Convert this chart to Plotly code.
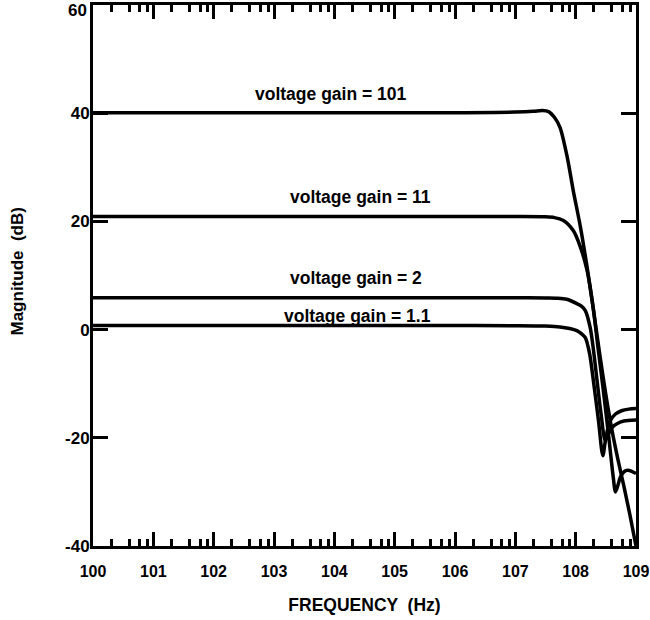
import plotly.graph_objects as go

# Closed-loop magnitude response for four voltage gains.
# Frequencies are given as log10(Hz); magnitudes in dB.
exp_g1_1 = [0, 3, 6, 7.0, 7.5, 7.74, 7.9, 8.02, 8.1, 8.16, 8.23, 8.3, 8.38, 8.45, 8.5, 8.57, 8.66, 8.76, 8.88, 9.0]
db_g1_1 = [0.75, 0.75, 0.75, 0.72, 0.65, 0.5, 0.2, -0.2, -0.8, -1.5, -4.4, -10, -17, -23.3, -20, -16.9, -15.6, -15.0, -14.7, -14.6]

exp_g2 = [0, 3, 6, 7.0, 7.5, 7.7, 7.85, 8.02, 8.1, 8.16, 8.24, 8.29, 8.35, 8.42, 8.49, 8.54, 8.61, 8.7, 8.8, 9.0]
db_g2 = [5.9, 5.9, 5.9, 5.9, 5.85, 5.8, 5.6, 4.8, 4.3, 3.5, 0.4, -3.3, -9, -15.5, -20.5, -19.4, -18.0, -17.3, -16.9, -16.7]

exp_g11 = [0, 3, 6, 7.0, 7.5, 7.65, 7.79, 7.96, 8.08, 8.19, 8.29, 8.37, 8.45, 8.55, 8.62, 8.66, 8.7, 8.74, 8.8, 8.86, 8.93, 9.0]
db_g11 = [20.9, 20.9, 20.9, 20.9, 20.85, 20.7, 20.2, 18.3, 15.2, 10.9, 4.1, -3.3, -10.5, -20, -27, -30, -28.8, -27.3, -26.3, -26.0, -26.2, -26.6]

exp_g101 = [0, 3, 6, 7.0, 7.3, 7.45, 7.55, 7.65, 7.74, 7.86, 7.96, 8.08, 8.19, 8.29, 8.41, 8.5, 8.6, 8.7, 8.8, 8.9, 9.0]
db_g101 = [40.1, 40.1, 40.1, 40.2, 40.35, 40.5, 40.3, 39.2, 37.4, 31.9, 25.7, 18.9, 11.5, 4.0, -5.4, -12, -18.5, -24, -29, -34.3, -40]

series = [
    ("voltage gain = 1.1", exp_g1_1, db_g1_1),
    ("voltage gain = 2", exp_g2, db_g2),
    ("voltage gain = 11", exp_g11, db_g11),
    ("voltage gain = 101", exp_g101, db_g101),
]

# Label anchor points (log10 Hz, dB)
label_text = ["voltage gain = 101", "voltage gain = 11", "voltage gain = 2", "voltage gain = 1.1"]
label_x = [3.945, 4.44, 4.36, 4.38]
label_y = [43.6, 24.5, 9.6, 2.6]

# Axis ticks
x_major_exp = list(range(0, 10))
x_tick_text = ["100", "101", "102", "103", "104", "105", "106", "107", "108", "109"]
x_minor_mult = [2, 4, 6, 8]
y_ticks = [-40, -20, 0, 20, 40, 60]

FONT = "Liberation Sans, Arial, sans-serif"

fig = go.Figure()
for name, ex, db in series:
    fig.add_trace(go.Scatter(
        x=[10 ** e for e in ex], y=db, mode="lines", name=name,
        line=dict(color="black", width=3.5, shape="spline", smoothing=0.8),
        hoverinfo="skip", showlegend=False,
    ))

for t, lx, ly in zip(label_text, label_x, label_y):
    fig.add_annotation(x=lx, y=ly, xref="x", yref="y", text="<b>%s</b>" % t,
                       showarrow=False, font=dict(family=FONT, size=17.5, color="black"))

# the top y label sits just under the frame corner
y_tick_text = ["<b>%d</b>" % v if v != 60 else "" for v in y_ticks]
fig.add_annotation(x=0, y=60, xref="paper", yref="y", text="<b>60</b>", showarrow=False,
                   xanchor="right", yanchor="middle", xshift=-4, yshift=-5,
                   font=dict(family=FONT, size=17, color="black"))

# vertical axis title
fig.add_annotation(x=0, y=0.5, xref="paper", yref="paper", text="<b>Magnitude  (dB)</b>",
                   showarrow=False, textangle=-90, xanchor="center", yanchor="middle",
                   xshift=-76, yshift=4, font=dict(family=FONT, size=17, color="black"))

minor_vals = [m * 10 ** d for d in range(0, 9) for m in x_minor_mult]

fig.update_xaxes(
    type="log", range=[0, 9], automargin=False,
    tickmode="array", tickvals=[10 ** e for e in x_major_exp], ticktext=["<b>%s</b>" % s for s in x_tick_text],
    ticks="inside", ticklen=14, tickwidth=2.5, tickcolor="black",
    minor=dict(tickmode="array", tickvals=minor_vals, ticks="inside", ticklen=7, tickwidth=2.5, tickcolor="black", showgrid=False),
    showline=True, linewidth=3, linecolor="black", mirror="ticks",
    showgrid=False, zeroline=False,
    tickfont=dict(family=FONT, size=16, color="black"),
    ticklabelstandoff=9,
    title=dict(text="<b>FREQUENCY  (Hz)</b>", font=dict(family=FONT, size=17.5, color="black"), standoff=20),
)
fig.update_yaxes(
    range=[-40, 60], automargin=False,
    tickmode="array", tickvals=y_ticks, ticktext=y_tick_text,
    ticks="inside", ticklen=15, tickwidth=2.5, tickcolor="black",
    showline=True, linewidth=3, linecolor="black", mirror="ticks",
    showgrid=False, zeroline=False,
    tickfont=dict(family=FONT, size=17, color="black"),
    ticklabelstandoff=-3,
)

fig.update_layout(
    width=650, height=620,
    margin=dict(l=93, r=14, t=5, b=74),
    plot_bgcolor="white", paper_bgcolor="white",
    showlegend=False,
)

fig.write_html("out.html")
